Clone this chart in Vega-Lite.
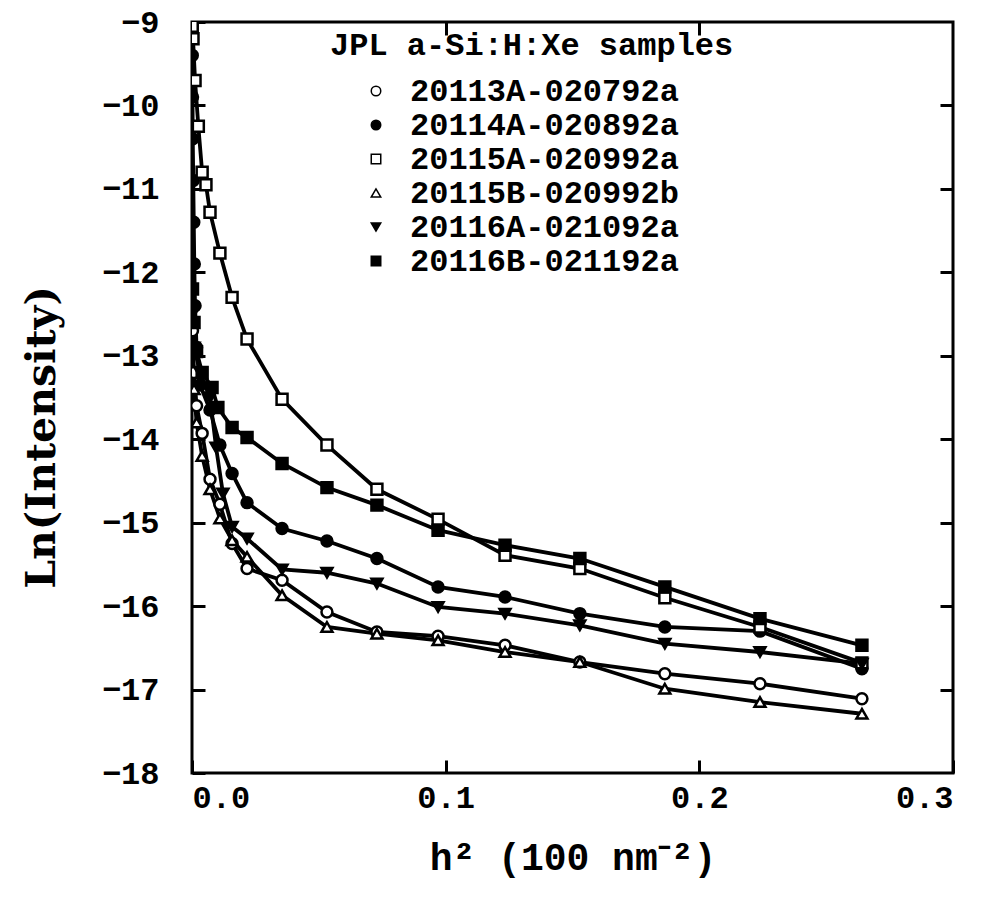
{
  "$schema": "https://vega.github.io/schema/vega-lite/v6.json",
  "width": 761,
  "height": 751,
  "autosize": {"type": "none"},
  "padding": {"left": 192, "top": 22, "right": 29, "bottom": 124},
  "background": "white",
  "config": {
    "view": {"stroke": "black", "strokeWidth": 3},
    "axis": {"domain": false, "grid": false, "tickColor": "black", "tickWidth": 3, "labelColor": "black", "titleColor": "black", "labelFont": "Liberation Mono", "labelFontWeight": "bold", "labelFontSize": 32},
    "legend": {"labelFont": "Liberation Mono", "titleFont": "Liberation Mono"}
  },
  "data": {"values": [
    {"series": "20113A-020792a", "h2": 0.0002, "ln": -12.7},
    {"series": "20113A-020792a", "h2": 0.0008, "ln": -13.2},
    {"series": "20113A-020792a", "h2": 0.0018, "ln": -13.6},
    {"series": "20113A-020792a", "h2": 0.004, "ln": -13.93},
    {"series": "20113A-020792a", "h2": 0.0071, "ln": -14.48},
    {"series": "20113A-020792a", "h2": 0.011, "ln": -14.78},
    {"series": "20113A-020792a", "h2": 0.0158, "ln": -15.25},
    {"series": "20113A-020792a", "h2": 0.0217, "ln": -15.55},
    {"series": "20113A-020792a", "h2": 0.0355, "ln": -15.69},
    {"series": "20113A-020792a", "h2": 0.0532, "ln": -16.07},
    {"series": "20113A-020792a", "h2": 0.0729, "ln": -16.31},
    {"series": "20113A-020792a", "h2": 0.097, "ln": -16.36},
    {"series": "20113A-020792a", "h2": 0.1234, "ln": -16.47},
    {"series": "20113A-020792a", "h2": 0.1529, "ln": -16.67},
    {"series": "20113A-020792a", "h2": 0.1864, "ln": -16.81},
    {"series": "20113A-020792a", "h2": 0.2239, "ln": -16.93},
    {"series": "20113A-020792a", "h2": 0.2641, "ln": -17.11},

    {"series": "20114A-020892a", "h2": 0.0001, "ln": -9.4},
    {"series": "20114A-020892a", "h2": 0.0002, "ln": -9.9},
    {"series": "20114A-020892a", "h2": 0.0003, "ln": -10.4},
    {"series": "20114A-020892a", "h2": 0.0005, "ln": -10.9},
    {"series": "20114A-020892a", "h2": 0.0007, "ln": -11.4},
    {"series": "20114A-020892a", "h2": 0.0009, "ln": -11.9},
    {"series": "20114A-020892a", "h2": 0.0012, "ln": -12.4},
    {"series": "20114A-020892a", "h2": 0.0018, "ln": -12.9},
    {"series": "20114A-020892a", "h2": 0.0032, "ln": -13.35},
    {"series": "20114A-020892a", "h2": 0.0071, "ln": -13.65},
    {"series": "20114A-020892a", "h2": 0.011, "ln": -14.07},
    {"series": "20114A-020892a", "h2": 0.0158, "ln": -14.41},
    {"series": "20114A-020892a", "h2": 0.0217, "ln": -14.76},
    {"series": "20114A-020892a", "h2": 0.0355, "ln": -15.07},
    {"series": "20114A-020892a", "h2": 0.0532, "ln": -15.22},
    {"series": "20114A-020892a", "h2": 0.0729, "ln": -15.43},
    {"series": "20114A-020892a", "h2": 0.097, "ln": -15.77},
    {"series": "20114A-020892a", "h2": 0.1234, "ln": -15.89},
    {"series": "20114A-020892a", "h2": 0.1529, "ln": -16.09},
    {"series": "20114A-020892a", "h2": 0.1864, "ln": -16.25},
    {"series": "20114A-020892a", "h2": 0.2239, "ln": -16.3},
    {"series": "20114A-020892a", "h2": 0.2641, "ln": -16.75},

    {"series": "20115A-020992a", "h2": 0.0001, "ln": -9.05},
    {"series": "20115A-020992a", "h2": 0.0004, "ln": -9.2},
    {"series": "20115A-020992a", "h2": 0.0012, "ln": -9.7},
    {"series": "20115A-020992a", "h2": 0.0025, "ln": -10.25},
    {"series": "20115A-020992a", "h2": 0.004, "ln": -10.8},
    {"series": "20115A-020992a", "h2": 0.0055, "ln": -10.95},
    {"series": "20115A-020992a", "h2": 0.0071, "ln": -11.28},
    {"series": "20115A-020992a", "h2": 0.011, "ln": -11.77},
    {"series": "20115A-020992a", "h2": 0.0158, "ln": -12.3},
    {"series": "20115A-020992a", "h2": 0.0217, "ln": -12.8},
    {"series": "20115A-020992a", "h2": 0.0355, "ln": -13.52},
    {"series": "20115A-020992a", "h2": 0.0532, "ln": -14.07},
    {"series": "20115A-020992a", "h2": 0.0729, "ln": -14.6},
    {"series": "20115A-020992a", "h2": 0.097, "ln": -14.96},
    {"series": "20115A-020992a", "h2": 0.1234, "ln": -15.39},
    {"series": "20115A-020992a", "h2": 0.1529, "ln": -15.55},
    {"series": "20115A-020992a", "h2": 0.1864, "ln": -15.9},
    {"series": "20115A-020992a", "h2": 0.2239, "ln": -16.25},
    {"series": "20115A-020992a", "h2": 0.2641, "ln": -16.68},

    {"series": "20115B-020992b", "h2": 0.0002, "ln": -12.9},
    {"series": "20115B-020992b", "h2": 0.0008, "ln": -13.4},
    {"series": "20115B-020992b", "h2": 0.0018, "ln": -13.8},
    {"series": "20115B-020992b", "h2": 0.004, "ln": -14.2},
    {"series": "20115B-020992b", "h2": 0.0071, "ln": -14.6},
    {"series": "20115B-020992b", "h2": 0.011, "ln": -14.95},
    {"series": "20115B-020992b", "h2": 0.0158, "ln": -15.21},
    {"series": "20115B-020992b", "h2": 0.0217, "ln": -15.41},
    {"series": "20115B-020992b", "h2": 0.0355, "ln": -15.87},
    {"series": "20115B-020992b", "h2": 0.0532, "ln": -16.25},
    {"series": "20115B-020992b", "h2": 0.0729, "ln": -16.33},
    {"series": "20115B-020992b", "h2": 0.097, "ln": -16.41},
    {"series": "20115B-020992b", "h2": 0.1234, "ln": -16.55},
    {"series": "20115B-020992b", "h2": 0.1529, "ln": -16.67},
    {"series": "20115B-020992b", "h2": 0.1864, "ln": -16.99},
    {"series": "20115B-020992b", "h2": 0.2239, "ln": -17.15},
    {"series": "20115B-020992b", "h2": 0.2641, "ln": -17.29},

    {"series": "20116A-021092a", "h2": 0.0002, "ln": -12.5},
    {"series": "20116A-021092a", "h2": 0.0008, "ln": -12.9},
    {"series": "20116A-021092a", "h2": 0.0032, "ln": -13.2},
    {"series": "20116A-021092a", "h2": 0.0071, "ln": -13.5},
    {"series": "20116A-021092a", "h2": 0.0095, "ln": -14.1},
    {"series": "20116A-021092a", "h2": 0.0122, "ln": -14.65},
    {"series": "20116A-021092a", "h2": 0.0158, "ln": -15.05},
    {"series": "20116A-021092a", "h2": 0.0217, "ln": -15.19},
    {"series": "20116A-021092a", "h2": 0.0355, "ln": -15.56},
    {"series": "20116A-021092a", "h2": 0.0532, "ln": -15.6},
    {"series": "20116A-021092a", "h2": 0.0729, "ln": -15.73},
    {"series": "20116A-021092a", "h2": 0.097, "ln": -16.01},
    {"series": "20116A-021092a", "h2": 0.1234, "ln": -16.09},
    {"series": "20116A-021092a", "h2": 0.1529, "ln": -16.23},
    {"series": "20116A-021092a", "h2": 0.1864, "ln": -16.45},
    {"series": "20116A-021092a", "h2": 0.2239, "ln": -16.55},
    {"series": "20116A-021092a", "h2": 0.2641, "ln": -16.69},

    {"series": "20116B-021192a", "h2": 0.0002, "ln": -12.2},
    {"series": "20116B-021192a", "h2": 0.0008, "ln": -12.6},
    {"series": "20116B-021192a", "h2": 0.0018, "ln": -12.95},
    {"series": "20116B-021192a", "h2": 0.004, "ln": -13.2},
    {"series": "20116B-021192a", "h2": 0.0079, "ln": -13.38},
    {"series": "20116B-021192a", "h2": 0.0102, "ln": -13.62},
    {"series": "20116B-021192a", "h2": 0.0158, "ln": -13.86},
    {"series": "20116B-021192a", "h2": 0.0217, "ln": -13.98},
    {"series": "20116B-021192a", "h2": 0.0355, "ln": -14.29},
    {"series": "20116B-021192a", "h2": 0.0532, "ln": -14.58},
    {"series": "20116B-021192a", "h2": 0.0729, "ln": -14.79},
    {"series": "20116B-021192a", "h2": 0.097, "ln": -15.09},
    {"series": "20116B-021192a", "h2": 0.1234, "ln": -15.27},
    {"series": "20116B-021192a", "h2": 0.1529, "ln": -15.43},
    {"series": "20116B-021192a", "h2": 0.1864, "ln": -15.77},
    {"series": "20116B-021192a", "h2": 0.2239, "ln": -16.15},
    {"series": "20116B-021192a", "h2": 0.2641, "ln": -16.47}
  ]},
  "layer": [
    {
      "mark": {"type": "line", "color": "black", "strokeWidth": 3.8, "clip": true},
      "encoding": {
        "x": {"field": "h2", "type": "quantitative", "scale": {"domain": [0, 0.3], "nice": false, "zero": false},
          "axis": {"orient": "bottom", "values": [0, 0.1, 0.2, 0.3], "format": ".1f", "tickSize": -13, "labelPadding": 22, "title": "h² (100 nm⁻²)", "titleFont": "Liberation Mono", "titleFontSize": 38, "titleFontWeight": "bold", "titlePadding": 26}},
        "y": {"field": "ln", "type": "quantitative", "scale": {"domain": [-18, -9], "nice": false, "zero": false},
          "axis": {"orient": "left", "values": [-18, -17, -16, -15, -14, -13, -12, -11, -10, -9], "format": "d", "tickSize": -13, "labelPadding": 46, "title": "Ln(Intensity)", "titleFont": "DejaVu Serif", "titleFontSize": 41, "titleFontWeight": "bold", "titleX": -150, "titleY": 415, "titleBaseline": "middle", "titleAlign": "center"}},
        "detail": {"field": "series"}
      }
    },
    {
      "mark": {"type": "point", "filled": true, "stroke": "black", "strokeWidth": 2.5, "size": 120, "opacity": 1, "clip": true},
      "encoding": {
        "x": {"field": "h2", "type": "quantitative", "axis": {"orient": "top", "values": [0.1, 0.2], "labels": false, "tickSize": -13, "title": null}},
        "y": {"field": "ln", "type": "quantitative", "axis": {"orient": "right", "values": [-17, -16, -15, -14, -13, -12, -11, -10], "labels": false, "tickSize": -13, "title": null}},
        "shape": {"field": "series", "type": "nominal",
          "scale": {"range": ["circle", "circle", "square", "triangle-up", "triangle-down", "square"]},
          "legend": {"title": "JPL a-Si:H:Xe samples", "orient": "none", "legendX": 138, "legendY": 8, "padding": 0,
            "titleFontSize": 32, "titleFontWeight": "bold", "titleColor": "black", "titlePadding": 13, "titleLimit": 0,
            "labelFontSize": 32, "labelFontWeight": "bold", "labelColor": "black", "labelOffset": 18, "labelLimit": 0,
            "symbolOffset": 30, "symbolSize": 90, "rowPadding": 2,
            "encode": {"symbols": {"update": {"stroke": {"value": "black"}, "strokeWidth": {"value": 2.5}}}}}},
        "fill": {"field": "series", "type": "nominal",
          "scale": {"range": ["white", "black", "white", "white", "black", "black"]},
          "legend": null}
      }
    }
  ]
}
